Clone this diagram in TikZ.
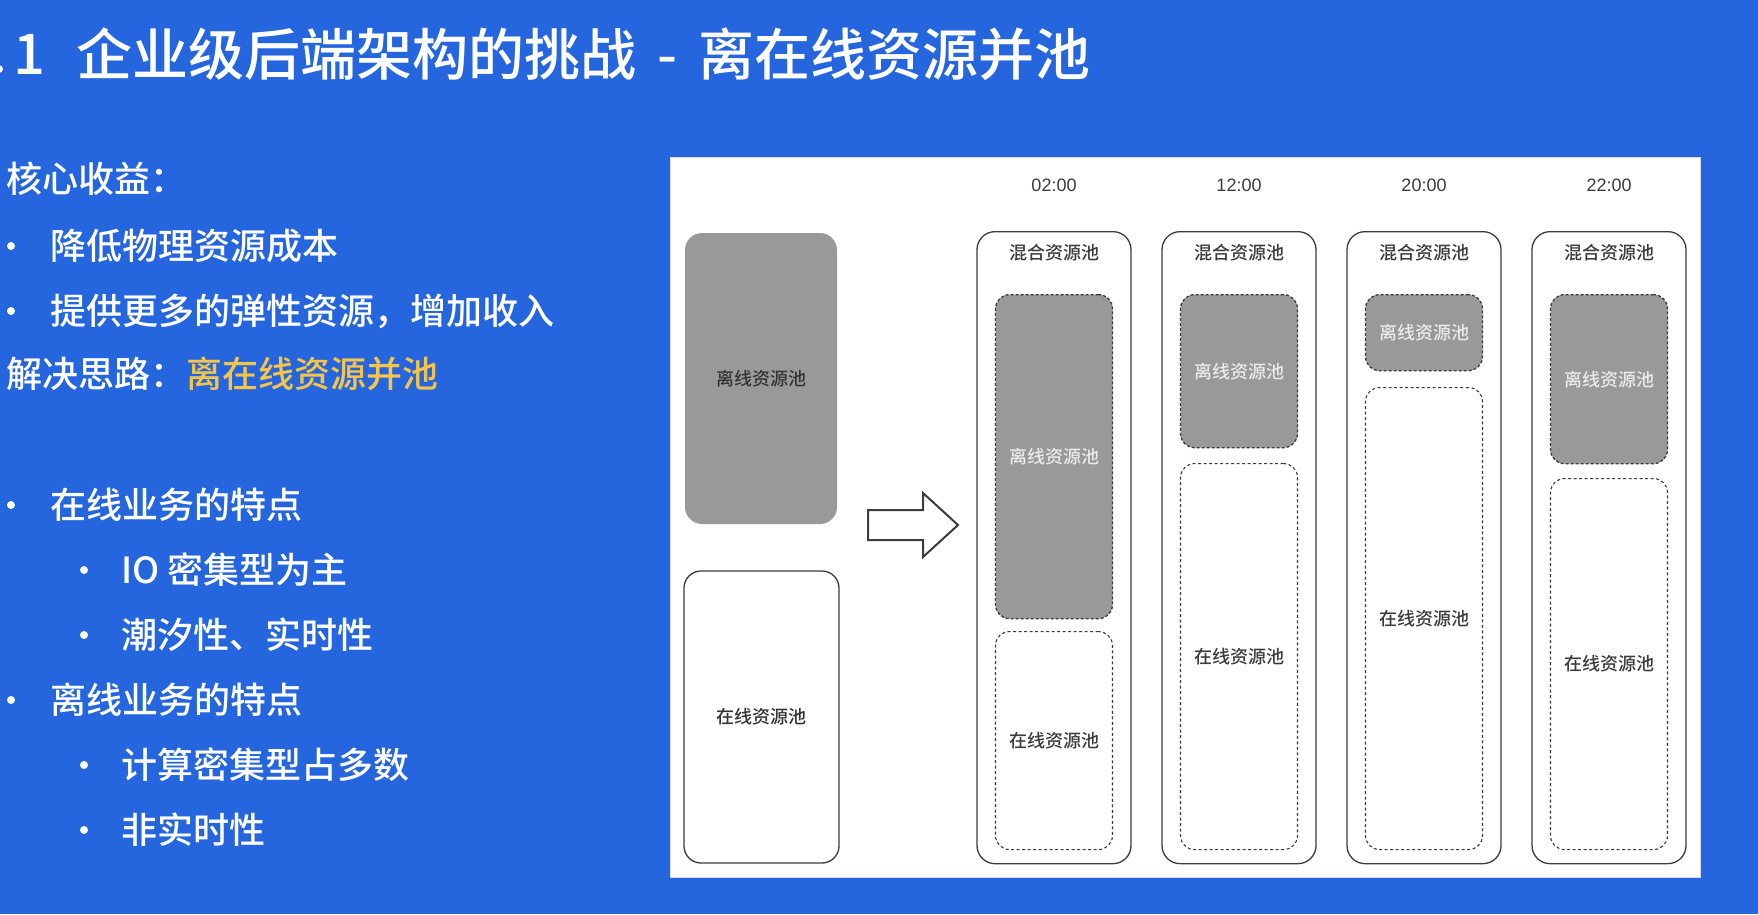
\documentclass[tikz,border=0pt]{standalone}
\usepackage{fontspec}
\setmainfont{Noto Sans CJK SC}
\newfontfamily\titlef{Noto Sans CJK SC}[UprightFont={* Medium}]
\newfontfamily\latinf{Liberation Sans}
\definecolor{slideblue}{RGB}{37,101,221}
\definecolor{hiyellow}{RGB}{244,197,72}
\definecolor{poolgray}{RGB}{153,153,153}
\definecolor{lineg}{RGB}{60,60,60}
\tikzset{
  big/.style={font=\titlef\fontsize{36}{40}\selectfont, text=white, inner sep=0pt, anchor=west},
  bul/.style={circle, fill=white, inner sep=0pt, minimum size=8pt},
  titletxt/.style={font=\titlef\fontsize{56}{60}\selectfont, text=white, inner sep=0pt},
  timelbl/.style={font=\latinf\fontsize{18}{20}\selectfont, text=lineg, inner sep=0pt},
  outerpool/.style={draw=lineg, line width=1.3pt, rounded corners=18pt, fill=white,
     minimum width=154pt, minimum height=632pt, anchor=north, inner sep=0pt},
  mixlbl/.style={font=\titlef\fontsize{18}{20}\selectfont, text=lineg, inner sep=0pt},
  offdash/.style={draw=lineg, line width=1.3pt, dash pattern=on 3pt off 2pt, rounded corners=14pt,
     fill=poolgray, minimum width=117pt, anchor=north, inner sep=0pt,
     font=\titlef\fontsize{18}{20}\selectfont, text=white!92!black},
  ondash/.style={draw=lineg, line width=1.1pt, dash pattern=on 3pt off 2.5pt, rounded corners=14pt,
     fill=white, minimum width=117pt, anchor=north, inner sep=0pt,
     font=\titlef\fontsize{18}{20}\selectfont, text=lineg},
  offsolid/.style={fill=poolgray, rounded corners=17pt, minimum width=152pt, minimum height=291pt,
     inner sep=0pt, font=\titlef\fontsize{18}{20}\selectfont, text=black!80},
  onsolid/.style={draw=lineg, line width=1.3pt, fill=white, rounded corners=17pt, minimum width=155pt,
     minimum height=292pt, inner sep=0pt, font=\titlef\fontsize{18}{20}\selectfont, text=black!80},
}
\begin{document}
\begin{tikzpicture}[x=1pt,y=-1pt]
\useasboundingbox (0,0) rectangle (1758,914);
\fill[slideblue] (0,0) rectangle (1758,914);

% title
\fill[white] (-1,69) circle (4);
\node[titletxt] (titlenum) at (29,54) {1};
\node[titletxt, anchor=west] (title) at (76,54) {企业级后端架构的挑战\makebox[62pt]{-}离在线资源并池};

% left text
\node[big] (h1) at (6,179) {核心收益：};
\node[bul] (b1) at (11,246) {}; \node[big] (t1) at (50,246) {降低物理资源成本};
\node[bul] (b2) at (11,311) {}; \node[big] (t2) at (50,311) {提供更多的弹性资源，增加收入};
\node[big] (h2) at (6,374) {解决思路：\textcolor{hiyellow}{离在线资源并池}};
\node[bul] (b3) at (11,505) {}; \node[big] (t3) at (50,505) {在线业务的特点};
\node[bul] (b4) at (84,570) {}; \node[big] (t4) at (121,570) {IO 密集型为主};
\node[bul] (b5) at (84,635) {}; \node[big] (t5) at (121,635) {潮汐性、实时性};
\node[bul] (b6) at (11,700) {}; \node[big] (t6) at (50,700) {离线业务的特点};
\node[bul] (b7) at (84,765) {}; \node[big] (t7) at (121,765) {计算密集型占多数};
\node[bul] (b8) at (84,830) {}; \node[big] (t8) at (121,830) {非实时性};

% panel
\node[draw=black!15, line width=1pt, fill=white, minimum width=1030pt, minimum height=720pt, inner sep=0pt, anchor=north west] (panel) at (670,157) {};

% left pools
\node[offsolid] (offL) at (761,378.5) {离线资源池};
\node[onsolid] (onL) at (761.5,717) {在线资源池};

% arrow
\draw[lineg, line width=2pt, fill=white, line join=miter] (868,510) -- (923,510) -- (923,493) -- (958,525) -- (923,557) -- (923,540) -- (868,540) -- cycle;

% columns
\foreach \i/\cx/\t/\offh/\onT/\onh in {1/1054/02:00/324/631/218, 2/1239/12:00/153/463/386, 3/1424/20:00/76/387/462, 4/1609/22:00/169/478/371}{
  \node[timelbl] (time\i) at (\cx,185) {\t};
  \node[outerpool] (mix\i) at (\cx,231) {};
  \node[mixlbl] (mixl\i) at (\cx,253) {混合资源池};
  \node[offdash, minimum height=\offh pt] (off\i) at (\cx,294) {离线资源池};
  \node[ondash, minimum height=\onh pt] (on\i) at (\cx,\onT) {在线资源池};
}
\end{tikzpicture}
\end{document}
